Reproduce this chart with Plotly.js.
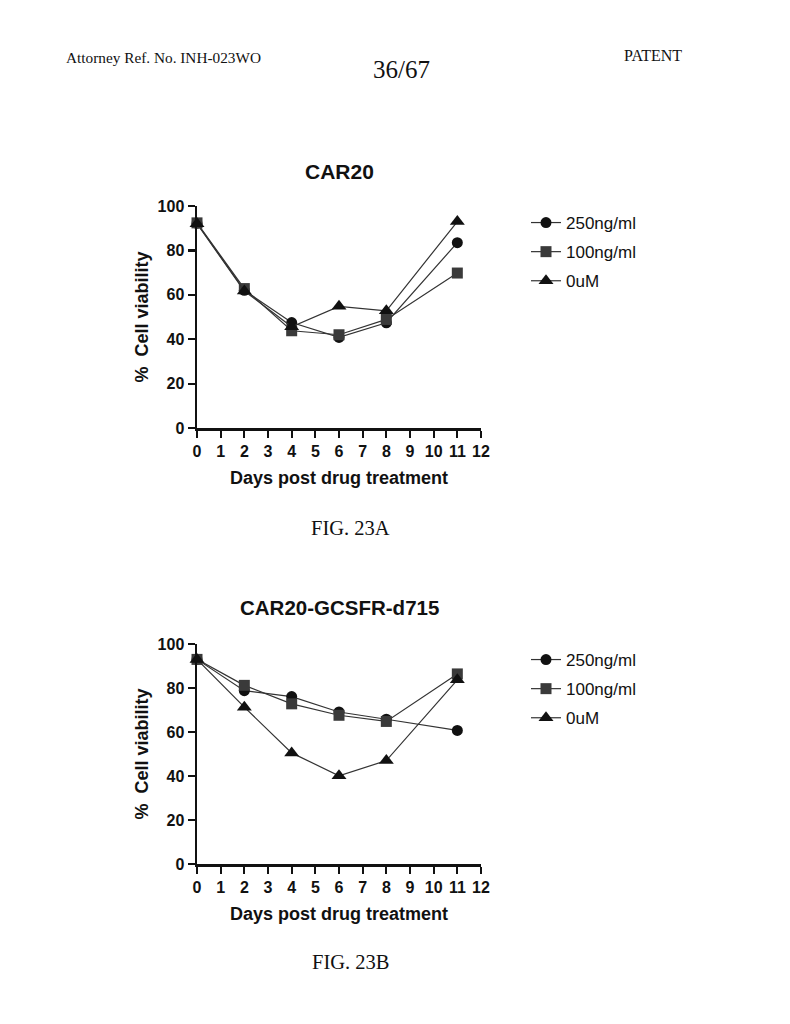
<!DOCTYPE html>
<html><head><meta charset="utf-8">
<script src="https://cdn.plot.ly/plotly-3.0.1.min.js"></script>
<style>html,body{margin:0;padding:0;background:#fff}#chart{width:790px;height:1024px}</style>
</head><body><div id="chart"></div>
<script>
const days = [0, 2, 4, 6, 8, 11];
const seriesNames = ['250ng/ml', '100ng/ml', '0uM'];
// FIG. 23A  CAR20
const car20_250 = [92.2, 62.0, 47.5, 40.8, 47.4, 83.5];
const car20_100 = [92.4, 62.8, 43.8, 42.0, 48.9, 69.8];
const car20_0 = [92.0, 61.7, 45.6, 54.8, 52.8, 93.0];
// FIG. 23B  CAR20-GCSFR-d715
const gcsfr_250 = [93.0, 78.8, 76.1, 69.1, 65.8, 60.7];
const gcsfr_100 = [93.0, 81.2, 72.8, 67.6, 64.8, 86.4];
const gcsfr_0 = [93.0, 71.3, 50.5, 40.1, 47.0, 83.7];
const xTicks = [0,1,2,3,4,5,6,7,8,9,10,11,12];
const yTicks = [0,20,40,60,80,100];

const sym = ['circle','square','triangle-up'];
const mcol = ['#111','#3a3a3a','#111'];
const msize = [11, 11, 13];
function mk(y, i, xa, ya, lg){
  return {x: days, y: y, name: seriesNames[i], type:'scatter', mode:'lines+markers',
    xaxis: xa, yaxis: ya, legend: lg, legendgroup: lg + i, cliponaxis:false,
    line:{color:'#333', width:1.2},
    marker:{symbol:sym[i], size:msize[i], color:mcol[i]}};
}
const data = [
  mk(car20_250,0,'x','y','legend'), mk(car20_100,1,'x','y','legend'), mk(car20_0,2,'x','y','legend'),
  mk(gcsfr_250,0,'x2','y2','legend2'), mk(gcsfr_100,1,'x2','y2','legend2'), mk(gcsfr_0,2,'x2','y2','legend2')
];
const sans = 'Liberation Sans, Arial, sans-serif';
const tickFont = {family:sans, size:16, color:'#111', weight:'bold'};
function xax(anchor, dom){
  return {domain: dom, anchor: anchor, range:[0,12], tickvals:xTicks, ticktext:xTicks.map(String),
    showline:true, linewidth:2.5, linecolor:'#111', ticks:'outside', ticklen:7, tickwidth:2.2, tickcolor:'#111',
    showgrid:false, zeroline:false, tickfont:tickFont, fixedrange:true,
    title:{text:'<b>Days post drug treatment</b>', font:{family:sans, size:18, color:'#111'}, standoff:13}};
}
function yax(anchor, dom){
  return {domain: dom, anchor: anchor, range:[0,100], tickvals:yTicks, ticktext:yTicks.map(String),
    showline:true, linewidth:2.5, linecolor:'#111', ticks:'outside', ticklen:7, tickwidth:2.2, tickcolor:'#111',
    showgrid:false, zeroline:false, tickfont:tickFont, fixedrange:true,
    title:{text:'<b>%  Cell viability</b>', font:{family:sans, size:18, color:'#111'}, standoff:5}};
}
const serif = 'Liberation Serif, Times New Roman, serif';
const legFont = {family:sans, size:17, color:'#111'};
const layout = {
  width:790, height:1024, margin:{l:0,r:0,t:0,b:0}, paper_bgcolor:'#fff', plot_bgcolor:'#fff',
  showlegend:true,
  xaxis: xax('y',[197/790, 481/790]),
  yaxis: yax('x',[1-428/1024, 1-206/1024]),
  xaxis2: xax('y2',[197/790, 481/790]),
  yaxis2: yax('x2',[1-864/1024, 1-644/1024]),
  legend:{x:526/790, y:1-205/1024, xanchor:'left', yanchor:'top', font:legFont, traceorder:'grouped', tracegroupgap:4, itemwidth:30, bgcolor:'rgba(0,0,0,0)'},
  legend2:{x:526/790, y:1-642/1024, xanchor:'left', yanchor:'top', font:legFont, traceorder:'grouped', tracegroupgap:4, itemwidth:30, bgcolor:'rgba(0,0,0,0)'},
  annotations:[
    {text:'Attorney Ref. No. INH-023WO', x:64/790, y:1-57/1024, xref:'paper', yref:'paper', xanchor:'left', yanchor:'middle', showarrow:false, font:{family:serif, size:15.3, color:'#111'}},
    {text:'36/67', x:401/790, y:1-69/1024, xref:'paper', yref:'paper', xanchor:'center', yanchor:'middle', showarrow:false, font:{family:serif, size:25, color:'#111'}},
    {text:'PATENT', x:684/790, y:1-55/1024, xref:'paper', yref:'paper', xanchor:'right', yanchor:'middle', showarrow:false, font:{family:serif, size:16, color:'#111'}},
    {text:'<b>CAR20</b>', x:339/790, y:1-171/1024, xref:'paper', yref:'paper', xanchor:'center', yanchor:'middle', showarrow:false, font:{family:sans, size:21, color:'#111'}},
    {text:'<b>CAR20-GCSFR-d715</b>', x:339/790, y:1-607/1024, xref:'paper', yref:'paper', xanchor:'center', yanchor:'middle', showarrow:false, font:{family:sans, size:20.5, color:'#111'}},
    {text:'FIG. 23A', x:350/790, y:1-528/1024, xref:'paper', yref:'paper', xanchor:'center', yanchor:'middle', showarrow:false, font:{family:serif, size:20.5, color:'#111'}},
    {text:'FIG. 23B', x:350/790, y:1-962/1024, xref:'paper', yref:'paper', xanchor:'center', yanchor:'middle', showarrow:false, font:{family:serif, size:20.5, color:'#111'}}
  ]
};
Plotly.newPlot('chart', data, layout, {staticPlot:true, displayModeBar:false});
</script></body></html>
